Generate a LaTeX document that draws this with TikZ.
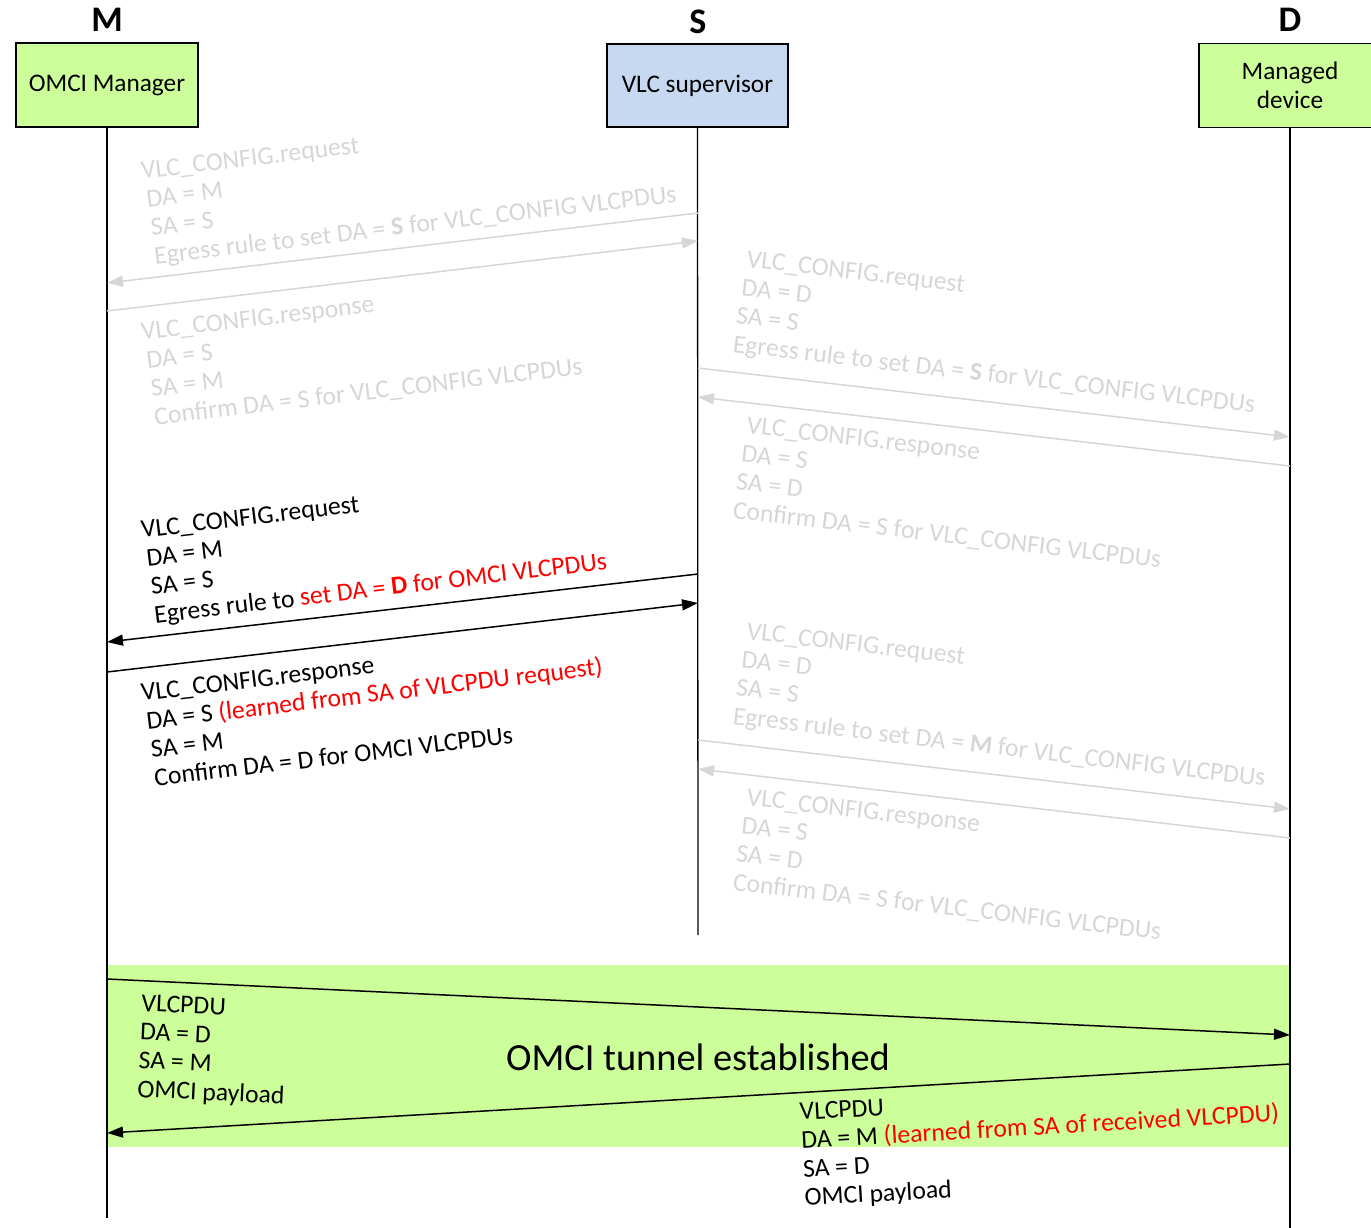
\documentclass[tikz,border=0pt]{standalone}
\usepackage{fontspec}
\setmainfont{Carlito}
\usetikzlibrary{arrows.meta}
\definecolor{lgrey}{RGB}{214,214,214}
\definecolor{pgreen}{RGB}{204,255,153}
\definecolor{pblue}{RGB}{198,217,240}
\definecolor{tred}{RGB}{255,0,0}
\tikzset{
  lbl/.style={anchor=base west, inner sep=0pt, font=\fontsize{25.7}{29}\selectfont},
  glbl/.style={lbl, text=lgrey},
  msg/.style={line width=1.5pt, -{Triangle[length=16pt,width=11pt]}},
  gmsg/.style={msg, draw=lgrey},
  headbox/.style={draw, line width=1.3pt, minimum width=182pt, minimum height=84pt, inner sep=0pt, font=\fontsize{25.3}{29}\selectfont, align=center},
  title/.style={anchor=base, inner sep=0pt, font=\fontsize{36}{40}\selectfont\bfseries},
  life/.style={line width=1.3pt}
}
\begin{document}
\begin{tikzpicture}[x=1pt,y=-1pt]
\useasboundingbox (0,0) rectangle (1371,1228);
% band
\fill[pgreen] (107,965) rectangle (1290,1147);
\node[anchor=base, inner sep=0pt, font=\fontsize{38.4}{42}\selectfont] (tunnel) at (698,1070) {OMCI tunnel established};
% heads
\node[headbox, fill=pgreen] (M) at (107,85) {OMCI Manager};
\node[headbox, fill=pblue, minimum width=181pt, minimum height=83pt] (S) at (697.5,85.5) {VLC supervisor};
\node[headbox, fill=pgreen] (D) at (1290,85.5) {Managed\\device};
\node[title] (tM) at (107,32) {M};
\node[title] (tS) at (698,34) {S};
\node[title] (tD) at (1290,32) {D};
% lifeline ends
\coordinate (Mend) at (107,1218);
\coordinate (Send) at (698,935);
\coordinate (Dend) at (1290,1228);
\draw[life] (M.south) -- (Mend);
\draw[life] (S.south) -- (Send);
\draw[life] (D.south) -- (Dend);
% message end points
\coordinate (a1s) at (698,213);  \coordinate (a1e) at (107,283);
\coordinate (a2s) at (107,311);  \coordinate (a2e) at (698,241);
\coordinate (a3s) at (698,368);  \coordinate (a3e) at (1290,437);
\coordinate (a4s) at (1290,466); \coordinate (a4e) at (698,397);
\coordinate (a5s) at (698,574);  \coordinate (a5e) at (107,642);
\coordinate (a6s) at (107,672);  \coordinate (a6e) at (698,603);
\coordinate (a7s) at (698,740);  \coordinate (a7e) at (1290,809);
\coordinate (a8s) at (1290,838); \coordinate (a8e) at (698,769);
\coordinate (a9s) at (107,979);  \coordinate (a9e) at (1290,1035);
\coordinate (a10s) at (1290,1064); \coordinate (a10e) at (107,1133);
\draw[gmsg] (a1s) -- (a1e);
\draw[gmsg] (a2s) -- (a2e);
\draw[gmsg] (a3s) -- (a3e);
\draw[gmsg] (a4s) -- (a4e);
\draw[msg] (a5s) -- (a5e);
\draw[msg] (a6s) -- (a6e);
\draw[gmsg] (a7s) -- (a7e);
\draw[gmsg] (a8s) -- (a8e);
\draw[msg] (a9s) -- (a9e);
\draw[msg] (a10s) -- (a10e);
% block 1
\begin{scope}[shift={(142,179)}, rotate=6.8, transform shape]
\node[glbl] (b1a) at (0,0) {VLC\_CONFIG.request};
\node[glbl] (b1b) at (2,28.7) {DA = M};
\node[glbl] (b1c) at (3,57.4) {SA = S};
\node[glbl] (b1d) at (3,86.1) {Egress rule to set DA = \textbf{S} for VLC\_CONFIG VLCPDUs};
\end{scope}
% block 2
\begin{scope}[shift={(142,340)}, rotate=6.8, transform shape]
\node[glbl] (b2a) at (0,0) {VLC\_CONFIG.response};
\node[glbl] (b2b) at (2,28.7) {DA = S};
\node[glbl] (b2c) at (3,57.4) {SA = M};
\node[glbl] (b2d) at (3,86.1) {Confirm DA = S for VLC\_CONFIG VLCPDUs};
\end{scope}
% block 3
\begin{scope}[shift={(142,538)}, rotate=6.8, transform shape]
\node[lbl] (b3a) at (0,0) {VLC\_CONFIG.request};
\node[lbl] (b3b) at (2,28.7) {DA = M};
\node[lbl] (b3c) at (3,57.4) {SA = S};
\node[lbl] (b3d) at (3,86.1) {Egress rule to \textcolor{tred}{set DA = \textbf{D} for OMCI VLCPDUs}};
\end{scope}
% block 4
\begin{scope}[shift={(142,701)}, rotate=6.8, transform shape]
\node[lbl] (b4a) at (0,0) {VLC\_CONFIG.response};
\node[lbl] (b4b) at (2,28.7) {DA = S \textcolor{tred}{(learned from SA of VLCPDU request)}};
\node[lbl] (b4c) at (3,57.4) {SA = M};
\node[lbl] (b4d) at (3,86.1) {Confirm DA = D for OMCI VLCPDUs};
\end{scope}
% block 5
\begin{scope}[shift={(746,267)}, rotate=-6.65, transform shape]
\node[glbl] (b5a) at (0,0) {VLC\_CONFIG.request};
\node[glbl] (b5b) at (-2,28.7) {DA = D};
\node[glbl] (b5c) at (-4,57.4) {SA = S};
\node[glbl] (b5d) at (-4,86.1) {Egress rule to set DA = \textbf{S} for VLC\_CONFIG VLCPDUs};
\end{scope}
% block 6
\begin{scope}[shift={(746,433)}, rotate=-6.65, transform shape]
\node[glbl] (b6a) at (0,0) {VLC\_CONFIG.response};
\node[glbl] (b6b) at (-2,28.7) {DA = S};
\node[glbl] (b6c) at (-4,57.4) {SA = D};
\node[glbl] (b6d) at (-4,86.1) {Confirm DA = S for VLC\_CONFIG VLCPDUs};
\end{scope}
% block 7
\begin{scope}[shift={(746,639)}, rotate=-6.65, transform shape]
\node[glbl] (b7a) at (0,0) {VLC\_CONFIG.request};
\node[glbl] (b7b) at (-2,28.7) {DA = D};
\node[glbl] (b7c) at (-4,57.4) {SA = S};
\node[glbl] (b7d) at (-4,86.1) {Egress rule to set DA = \textbf{M} for VLC\_CONFIG VLCPDUs};
\end{scope}
% block 8
\begin{scope}[shift={(746,805)}, rotate=-6.65, transform shape]
\node[glbl] (b8a) at (0,0) {VLC\_CONFIG.response};
\node[glbl] (b8b) at (-2,28.7) {DA = S};
\node[glbl] (b8c) at (-4,57.4) {SA = D};
\node[glbl] (b8d) at (-4,86.1) {Confirm DA = S for VLC\_CONFIG VLCPDUs};
\end{scope}
% block 9
\begin{scope}[shift={(141,1011)}, rotate=-2.7, transform shape]
\node[lbl] (b9a) at (0,0) {VLCPDU};
\node[lbl] (b9b) at (0,28.7) {DA = D};
\node[lbl] (b9c) at (0,57.4) {SA = M};
\node[lbl] (b9d) at (0,86.1) {OMCI payload};
\end{scope}
% block 10
\begin{scope}[shift={(800,1120)}, rotate=3.3, transform shape]
\node[lbl] (b10a) at (0,0) {VLCPDU};
\node[lbl] (b10b) at (0,28.7) {DA = M \textcolor{tred}{(learned from SA of received VLCPDU)}};
\node[lbl] (b10c) at (0,57.4) {SA = D};
\node[lbl] (b10d) at (0,86.1) {OMCI payload};
\end{scope}
\end{tikzpicture}
\end{document}
